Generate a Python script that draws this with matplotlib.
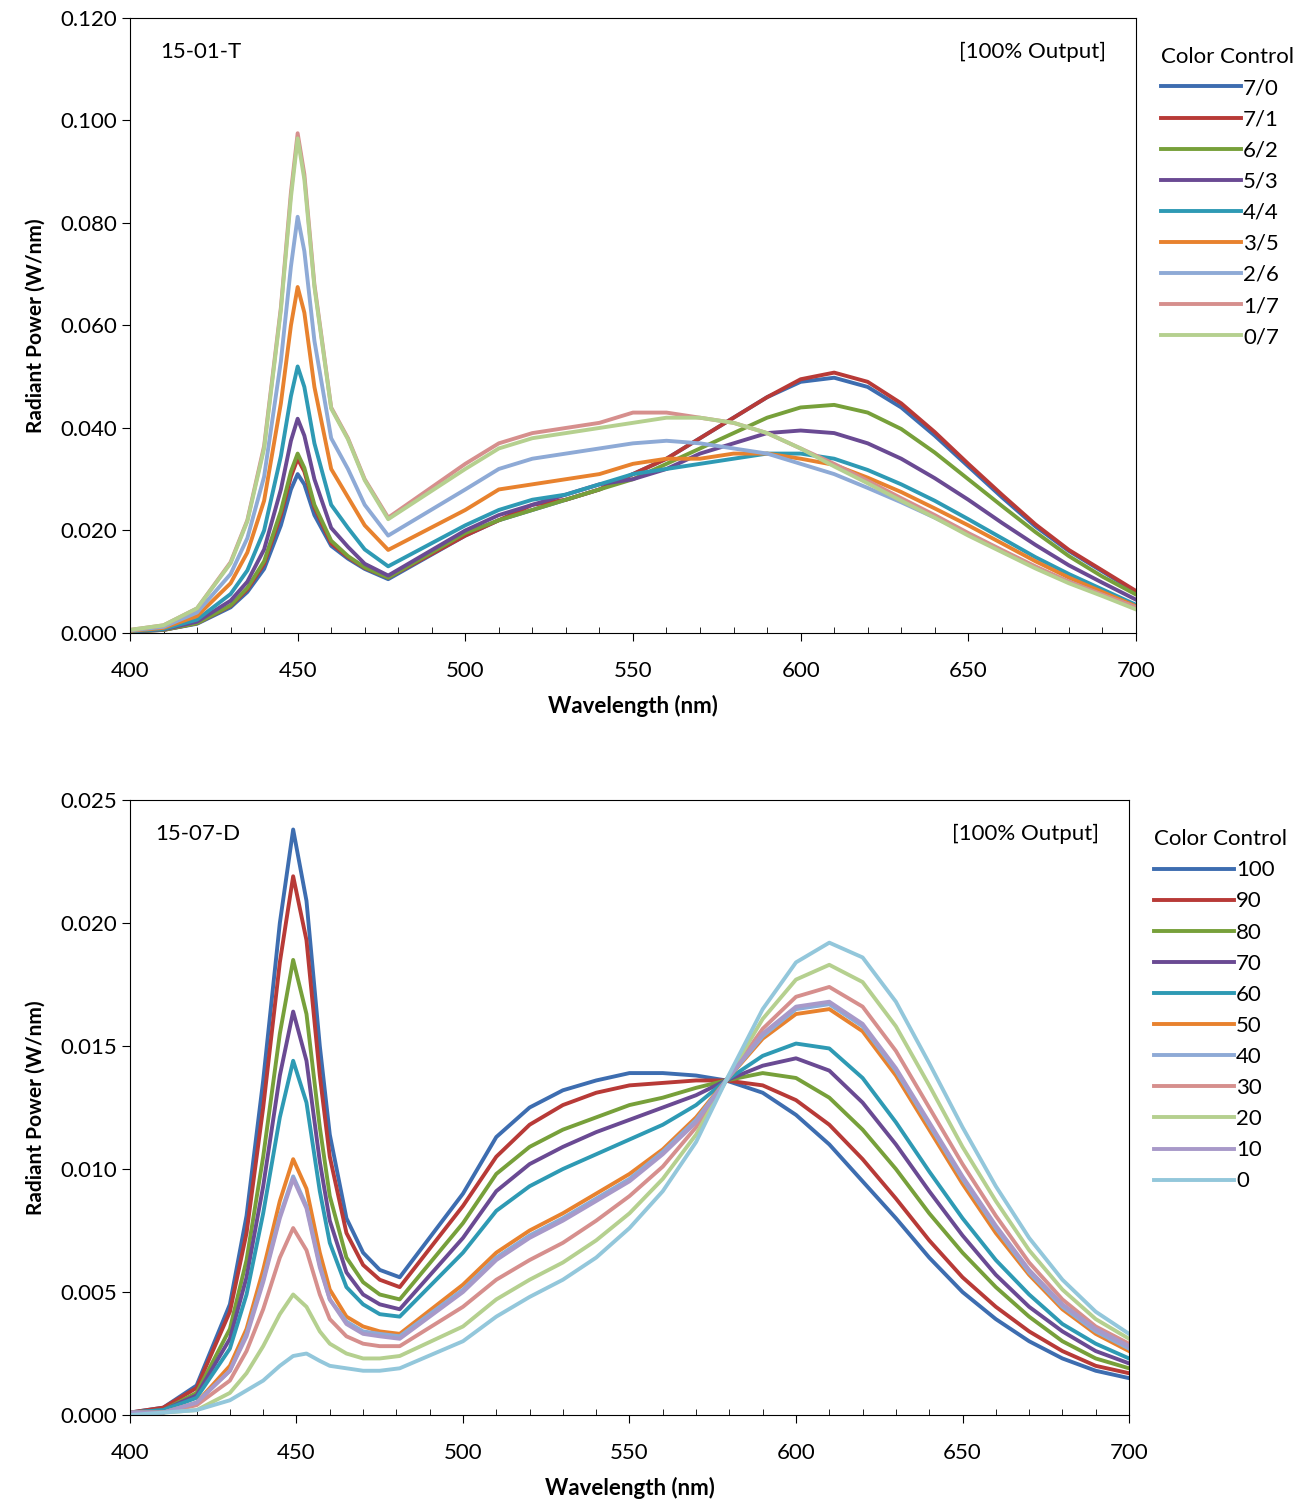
import matplotlib
matplotlib.use("Agg")
import matplotlib.pyplot as plt
from matplotlib.ticker import MultipleLocator

plt.rcParams['font.family'] = ['Lato', 'DejaVu Sans']

# ---------------- top chart data ----------------
wl_top = [400,410,420,430,435,440,445,448,450,452,455,460,465,470,477,
          500,510,520,530,540,550,560,570,580,590,600,
          610,620,630,640,650,660,670,680,690,700]
labels_top = ["7/0","7/1","6/2","5/3","4/4","3/5","2/6","1/7","0/7"]
s_70 = [.0003,.0006,.0018,.0050,.0080,.0125,.0210,.0280,.0310,.0290,.0230,.0170,.0145,.0125,.0105,
        .019,.022,.024,.026,.028,.031,.034,.038,.042,.046,.049,
        .0498,.0480,.0440,.0385,.0325,.0265,.0208,.0160,.0120,.0080]
s_71 = [.0003,.0006,.0019,.0053,.0085,.0135,.0230,.0305,.0340,.0315,.0245,.0175,.0148,.0127,.0108,
        .019,.022,.025,.026,.028,.031,.034,.038,.042,.046,.0495,
        .0508,.0490,.0448,.0392,.0330,.0270,.0212,.0162,.0122,.0082]
s_62 = [.0003,.0006,.0019,.0054,.0088,.0140,.0238,.0315,.0350,.0322,.0250,.0180,.0150,.0128,.0108,
        .0195,.022,.024,.026,.028,.030,.033,.036,.039,.042,.044,
        .0445,.0430,.0398,.0352,.0300,.0248,.0197,.0150,.0110,.0075]
s_53 = [.0003,.0007,.0022,.0063,.0100,.0163,.0280,.0375,.0418,.0385,.0300,.0205,.0168,.0135,.0112,
        .020,.023,.025,.027,.029,.030,.032,.035,.037,.039,.0395,
        .0390,.0370,.0340,.0302,.0260,.0215,.0172,.0132,.0098,.0065]
s_44 = [.0003,.0008,.0026,.0076,.0122,.0200,.0345,.0462,.0520,.0480,.0370,.0250,.0205,.0163,.0130,
        .021,.024,.026,.027,.029,.031,.032,.033,.034,.035,.035,
        .0340,.0318,.0290,.0258,.0222,.0185,.0148,.0115,.0085,.0055]
s_35 = [.0004,.0010,.0033,.0097,.0157,.0258,.0448,.0600,.0675,.0625,.0480,.0320,.0265,.0210,.0162,
        .024,.028,.029,.030,.031,.033,.034,.034,.035,.035,.034,
        .0328,.0303,.0275,.0243,.0210,.0175,.0140,.0108,.0080,.0052]
s_26 = [.0005,.0012,.0040,.0115,.0185,.0305,.0530,.0715,.0812,.0745,.0570,.0380,.0320,.0250,.0190,
        .028,.032,.034,.035,.036,.037,.0375,.037,.036,.035,.033,
        .0310,.0283,.0255,.0225,.0193,.0160,.0128,.0100,.0074,.0050]
s_17 = [.0006,.0015,.0048,.0138,.0220,.0365,.0635,.0860,.0975,.0895,.0680,.0440,.0380,.0300,.0225,
        .033,.037,.039,.040,.041,.043,.043,.042,.041,.039,.036,
        .0330,.0297,.0263,.0230,.0195,.0162,.0130,.0100,.0075,.0050]
s_07 = [.0006,.0015,.0048,.0136,.0218,.0360,.0630,.0850,.0965,.0885,.0675,.0438,.0378,.0298,.0222,
        .032,.036,.038,.039,.040,.041,.042,.042,.041,.039,.036,
        .0325,.0292,.0258,.0225,.0190,.0158,.0126,.0097,.0072,.0046]
series_top = [s_70, s_71, s_62, s_53, s_44, s_35, s_26, s_17, s_07]

# ---------------- bottom chart data ----------------
wl_bot = [400,410,420,430,435,440,445,449,453,457,460,465,470,475,481,
          500,510,520,530,540,550,560,570,579,
          590,600,610,620,630,640,650,660,670,680,690,700]
labels_bot = ["100","90","80","70","60","50","40","30","20","10","0"]
b_100 = [.0001,.0003,.0012,.0045,.0081,.0136,.0200,.0238,.0209,.0150,.0114,.0080,.0066,.0059,.0056,
         .0090,.0113,.0125,.0132,.0136,.0139,.0139,.0138,.0136,
         .0131,.0122,.0110,.0095,.0080,.0064,.0050,.0039,.0030,.0023,.0018,.0015]
b_90 = [.0001,.0003,.0011,.0042,.0074,.0125,.0184,.0219,.0193,.0138,.0105,.0074,.0061,.0055,.0052,
        .0085,.0105,.0118,.0126,.0131,.0134,.0135,.0136,.0136,
        .0134,.0128,.0118,.0104,.0088,.0071,.0056,.0044,.0034,.0026,.0020,.0017]
b_80 = [.0001,.0002,.0009,.0035,.0063,.0105,.0155,.0185,.0163,.0117,.0089,.0064,.0054,.0049,.0047,
        .0078,.0098,.0109,.0116,.0121,.0126,.0129,.0133,.0136,
        .0139,.0137,.0129,.0116,.0100,.0082,.0066,.0052,.0040,.0030,.0023,.0019]
b_70 = [.0001,.0002,.0008,.0031,.0056,.0093,.0138,.0164,.0144,.0103,.0079,.0058,.0049,.0045,.0043,
        .0072,.0091,.0102,.0109,.0115,.0120,.0125,.0130,.0136,
        .0142,.0145,.0140,.0127,.0110,.0091,.0073,.0057,.0044,.0034,.0026,.0021]
b_60 = [.0001,.0002,.0007,.0027,.0049,.0082,.0121,.0144,.0127,.0091,.0070,.0052,.0045,.0041,.0040,
        .0066,.0083,.0093,.0100,.0106,.0112,.0118,.0126,.0136,
        .0146,.0151,.0149,.0137,.0119,.0099,.0080,.0063,.0049,.0037,.0029,.0023]
b_50 = [.0001,.0001,.0005,.0020,.0035,.0059,.0087,.0104,.0092,.0066,.0051,.0040,.0036,.0034,.0033,
        .0053,.0066,.0075,.0082,.0090,.0098,.0108,.0121,.0136,
        .0153,.0163,.0165,.0156,.0138,.0116,.0094,.0074,.0057,.0043,.0033,.0026]
b_40 = [.0001,.0001,.0005,.0018,.0033,.0055,.0081,.0097,.0085,.0061,.0047,.0038,.0034,.0033,.0032,
        .0051,.0064,.0073,.0080,.0088,.0096,.0107,.0120,.0136,
        .0154,.0165,.0167,.0158,.0140,.0118,.0096,.0076,.0058,.0044,.0034,.0027]
b_30 = [.0001,.0001,.0004,.0014,.0026,.0043,.0064,.0076,.0067,.0049,.0039,.0032,.0029,.0028,.0028,
        .0044,.0055,.0063,.0070,.0079,.0089,.0101,.0117,.0136,
        .0157,.0170,.0174,.0166,.0148,.0125,.0102,.0081,.0062,.0047,.0036,.0029]
b_20 = [.0000,.0001,.0002,.0009,.0017,.0028,.0041,.0049,.0044,.0034,.0029,.0025,.0023,.0023,.0024,
        .0036,.0047,.0055,.0062,.0071,.0082,.0096,.0114,.0136,
        .0161,.0177,.0183,.0176,.0158,.0134,.0109,.0087,.0067,.0051,.0039,.0031]
b_10 = [.0001,.0001,.0005,.0018,.0032,.0054,.0080,.0096,.0084,.0060,.0047,.0037,.0033,.0032,.0031,
        .0050,.0063,.0072,.0079,.0087,.0095,.0106,.0119,.0136,
        .0155,.0166,.0168,.0159,.0141,.0119,.0097,.0077,.0059,.0045,.0035,.0028]
b_0 = [.0000,.0001,.0002,.0006,.0010,.0014,.0020,.0024,.0025,.0022,.0020,.0019,.0018,.0018,.0019,
       .0030,.0040,.0048,.0055,.0064,.0076,.0091,.0111,.0136,
       .0165,.0184,.0192,.0186,.0168,.0143,.0117,.0093,.0072,.0055,.0042,.0033]
series_bot = [b_100, b_90, b_80, b_70, b_60, b_50, b_40, b_30, b_20, b_10, b_0]

colors = ["#3D6DB0", "#B83A37", "#77A03A", "#6A4A93", "#2E9AB4", "#E8822E",
          "#8EAAD6", "#D68F8D", "#B5D08F", "#A899C9", "#93C7DB"]
colors_top = colors[:8] + ["#B5D08F"]

fig = plt.figure(figsize=(13.09, 15.06), dpi=100)
ax1 = fig.add_axes([0.0993, 0.5797, 0.7685, 0.4084])
ax2 = fig.add_axes([0.0993, 0.0604, 0.7632, 0.4084])

def style(ax, ymax, ystep, fmt):
    ax.set_xlim(400, 700)
    ax.set_ylim(0, ymax)
    ax.xaxis.set_major_locator(MultipleLocator(50))
    ax.xaxis.set_minor_locator(MultipleLocator(10))
    ax.yaxis.set_major_locator(MultipleLocator(ystep))
    ax.yaxis.set_major_formatter(matplotlib.ticker.FormatStrFormatter(fmt))
    ax.tick_params(axis='both', which='major', labelsize=16, direction='out', length=6)
    ax.tick_params(axis='x', which='minor', direction='in', length=4)
    ax.tick_params(axis='x', which='major', pad=14)
    ax.set_xlabel("Wavelength (nm)", fontsize=16, fontweight='bold', labelpad=10)
    ax.set_ylabel("Radiant Power (W/nm)", fontsize=15, fontweight='bold', labelpad=10)

leg_kw = dict(loc='upper left', bbox_to_anchor=(1.005, 0.985), frameon=False, title="Color Control",
              title_fontsize=16, fontsize=16, handlelength=3.6, handletextpad=0.1, labelspacing=0.5,
              alignment='left')

for s, lab, c in zip(series_top, labels_top, colors_top):
    ax1.plot(wl_top, s, color=c, lw=2.8, label=lab, solid_joinstyle='round')
style(ax1, 0.12, 0.02, "%.3f")
ax1.text(0.03, 0.945, "15-01-T", transform=ax1.transAxes, fontsize=16, va='center')
ax1.text(0.97, 0.945, "[100% Output]", transform=ax1.transAxes, fontsize=16, va='center', ha='right')
ax1.legend(**leg_kw)

for s, lab, c in zip(series_bot, labels_bot, colors):
    ax2.plot(wl_bot, s, color=c, lw=2.8, label=lab, solid_joinstyle='round')
style(ax2, 0.025, 0.005, "%.3f")
ax2.text(0.025, 0.945, "15-07-D", transform=ax2.transAxes, fontsize=16, va='center')
ax2.text(0.97, 0.945, "[100% Output]", transform=ax2.transAxes, fontsize=16, va='center', ha='right')
ax2.legend(**leg_kw)

fig.savefig("out.png", dpi=100)
